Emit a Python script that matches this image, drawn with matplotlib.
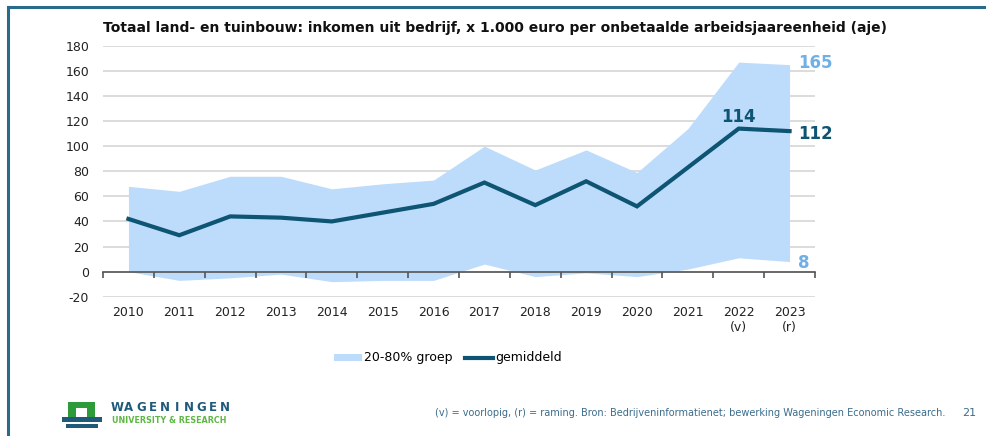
import matplotlib.pyplot as plt
from matplotlib.patches import Rectangle, Patch
from matplotlib.lines import Line2D

plt.rcParams["axes.unicode_minus"] = False

years = ["2010", "2011", "2012", "2013", "2014", "2015", "2016",
         "2017", "2018", "2019", "2020", "2021", "2022\n(v)", "2023\n(r)"]
upper = [68, 64, 76, 76, 66, 70, 73, 100, 81, 97, 79, 114, 167, 165]
mean = [42, 29, 44, 43, 40, 47, 54, 71, 53, 72, 52, 83, 114, 112]
lower = [0, -7, -5, -2, -8, -7, -7, 6, -4, -1, -4, 2, 11, 8]

band_color = "#bddcfb"
line_color = "#0d5573"
label_blue = "#6fb0e6"
foot_color = "#3a6c8c"

W, H = 987, 436
fig = plt.figure(figsize=(W / 100, H / 100), dpi=100)

# slide frame
fig.add_artist(Line2D([8 / W, 1], [1 - 7 / H, 1 - 7 / H], color="#2a6a8a", lw=2.2))
fig.add_artist(Line2D([8 / W, 8 / W], [0, 1 - 7 / H], color="#2a6a8a", lw=2.2))

ax = fig.add_axes([103 / W, 1 - 296.7 / H, 712 / W, 250.9 / H])
x = list(range(len(years)))

ax.fill_between(x, lower, upper, color=band_color, lw=0, zorder=2)
ax.plot(x, mean, color=line_color, lw=3, solid_joinstyle="miter", zorder=3)

ax.set_xlim(-0.5, len(years) - 0.5)
ax.set_ylim(-20, 180)
ax.set_yticks(range(-20, 181, 20))
ax.grid(axis="y", color="#d6d6d6", lw=1.2)
ax.yaxis.set_zorder(0.5)
ax.xaxis.set_zorder(5)
ax.tick_params(axis="y", length=0, labelsize=9, pad=10, labelcolor="#222222")

for s in ["top", "right", "left"]:
    ax.spines[s].set_visible(False)
ax.spines["bottom"].set_position(("data", 0))
ax.spines["bottom"].set_color("#555555")
ax.spines["bottom"].set_linewidth(1.2)
ax.spines["bottom"].set_zorder(4)
ax.set_xticks(x)
ax.set_xticklabels(years, fontsize=9, color="#222222", linespacing=1.2)
ax.set_xticks([i - 0.5 for i in range(len(years) + 1)], minor=True)
ax.tick_params(axis="x", which="major", length=0, pad=25)
ax.tick_params(axis="x", which="minor", length=4, width=1.2, color="#555555", direction="out")

# value labels
ax.annotate(str(mean[12]), (x[12], mean[12]), xytext=(0, 2), textcoords="offset points",
            ha="center", va="bottom", fontsize=12, fontweight="bold", color=line_color)
ax.annotate(str(mean[13]), (x[13], mean[13]), xytext=(6, -2), textcoords="offset points",
            ha="left", va="center", fontsize=12, fontweight="bold", color=line_color)
ax.annotate(str(upper[13]), (x[13], upper[13]), xytext=(6, 1), textcoords="offset points",
            ha="left", va="center", fontsize=12, fontweight="bold", color=label_blue)
ax.annotate(str(lower[13]), (x[13], lower[13]), xytext=(6, -1), textcoords="offset points",
            ha="left", va="center", fontsize=12, fontweight="bold", color=label_blue)

fig.text(103 / W, 1 - 28 / H,
         "Totaal land- en tuinbouw: inkomen uit bedrijf, x 1.000 euro per onbetaalde arbeidsjaareenheid (aje)",
         fontsize=10, fontweight="bold", color="#111111", va="center", ha="left")

handles = [Patch(facecolor=band_color, edgecolor="none", label="20-80% groep"),
           Line2D([], [], color=line_color, lw=3, label="gemiddeld")]
fig.legend(handles=handles, loc="center", bbox_to_anchor=(448 / W, 1 - 358 / H), ncol=2,
           frameon=False, fontsize=9, handlelength=2.2, handletextpad=0.2,
           columnspacing=1.0, handleheight=0.5)

# footer
fig.text(945 / W, 1 - 413 / H,
         "(v) = voorlopig, (r) = raming. Bron: Bedrijveninformatienet; bewerking Wageningen Economic Research.",
         fontsize=7, color=foot_color, ha="right", va="center")
fig.text(962 / W, 1 - 413 / H, "21", fontsize=8, color=foot_color, ha="left", va="center")

# logo
green = "#2e9b3a"
teal = "#1f5a7a"
fig.add_artist(Rectangle((68 / W, 1 - 417 / H), 27 / W, 15 / H, transform=fig.transFigure,
                         facecolor=green, edgecolor="none"))
fig.add_artist(Rectangle((76 / W, 1 - 417 / H), 11 / W, 9 / H, transform=fig.transFigure,
                         facecolor="white", edgecolor="none"))
fig.add_artist(Rectangle((62 / W, 1 - 422 / H), 40 / W, 5 / H, transform=fig.transFigure,
                         facecolor=teal, edgecolor="none"))
fig.add_artist(Rectangle((66 / W, 1 - 428 / H), 32 / W, 4 / H, transform=fig.transFigure,
                         facecolor=teal, edgecolor="none"))
for i, ch in enumerate("WAGENINGEN"):
    fig.text((117 + i * 12.0) / W, 1 - 407 / H, ch, fontsize=8.5, fontweight="bold",
             color=teal, ha="center", va="center")
fig.text(112 / W, 1 - 420 / H, "UNIVERSITY & RESEARCH", fontsize=5.8, fontweight="bold",
         color="#5db843", ha="left", va="center")

fig.savefig("out.png", dpi=100)
